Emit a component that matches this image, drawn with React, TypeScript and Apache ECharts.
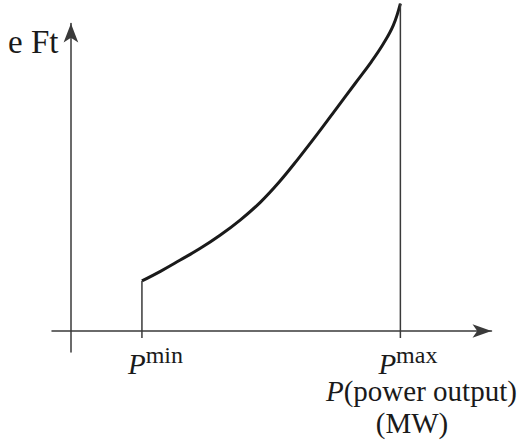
import React, { useEffect, useRef } from "react";
import * as echarts from "echarts";

// Cost curve e Ft(P) between P^min and P^max (abstract units)
const curveX = [30, 38, 46, 54.5, 63, 71.5, 80, 88, 96, 104, 112, 120, 127, 132, 136.2, 139.2];
const curveY = [15.8, 18.9, 22.3, 26.0, 30.2, 35.0, 40.6, 47.0, 54.3, 62.0, 70.0, 78.0, 85.0, 90.6, 96.4, 103.3];
const pMin = 30;
const pMax = 139.2;
const tickBase = -2.2;
const xRange = [-8, 177.7];
const yRange = [-6.62, 97];
const yAxisTitle = "e Ft";
const xAxisTitle = "(power output)";
const xAxisUnit = "(MW)";

const FONT = "Liberation Serif";
const INK = "#1a1a1a";
const LINE = "#3a3a3a";

export default function App() {
  const ref = useRef<HTMLDivElement>(null);
  useEffect(() => {
    if (!ref.current) return;
    const chart = echarts.init(ref.current, null, { renderer: "svg" });
    const supRich = {
      p: { fontFamily: FONT, fontStyle: "italic", fontSize: 29, color: INK, lineHeight: 35, verticalAlign: "bottom" },
      s: { fontFamily: FONT, fontSize: 24, color: INK, lineHeight: 24, verticalAlign: "top" },
    };
    const baseLabel = (sup: string, dx: number) => ({
      show: true,
      position: "bottom",
      align: "left",
      distance: 0,
      offset: [dx, 5],
      formatter: `{p|P}{s|${sup}}`,
      rich: supRich,
    });
    const plain = (size: number) => ({ fontFamily: FONT, fontSize: size, font: `${size}px "${FONT}"`, fill: INK });
    chart.setOption({
      animation: false,
      grid: { left: 52, right: 30.5, top: 23.5, bottom: 92 },
      xAxis: {
        type: "value",
        min: xRange[0],
        max: xRange[1],
        axisLine: {
          show: true,
          onZero: true,
          symbol: ["none", "arrow"],
          symbolSize: [10, 19],
          lineStyle: { color: LINE, width: 1.5 },
        },
        axisTick: { show: false },
        axisLabel: { show: false },
        splitLine: { show: false },
      },
      yAxis: {
        type: "value",
        min: yRange[0],
        max: yRange[1],
        axisLine: {
          show: true,
          onZero: true,
          symbol: ["none", "arrow"],
          symbolSize: [11, 19],
          lineStyle: { color: LINE, width: 1.5 },
        },
        axisTick: { show: false },
        axisLabel: { show: false },
        splitLine: { show: false },
      },
      series: [
        {
          type: "line",
          data: curveX.map((x, i) => [x, curveY[i]]),
          smooth: 0.4,
          showSymbol: false,
          clip: false,
          lineStyle: { color: INK, width: 3 },
        },
        {
          type: "line",
          symbol: "circle",
          symbolSize: 1,
          itemStyle: { color: "rgba(0,0,0,0)", borderWidth: 0 },
          clip: false,
          lineStyle: { color: LINE, width: 1.5 },
          data: [
            { value: [pMin, tickBase], label: baseLabel("min", -14) },
            [pMin, curveY[0]],
          ],
        },
        {
          type: "line",
          symbol: "circle",
          symbolSize: 1,
          itemStyle: { color: "rgba(0,0,0,0)", borderWidth: 0 },
          clip: false,
          lineStyle: { color: LINE, width: 1.5 },
          data: [
            { value: [pMax, tickBase], label: baseLabel("max", -22) },
            [pMax, curveY[curveY.length - 1]],
          ],
        },
      ],
      graphic: [
        {
          type: "text",
          x: 8,
          y: 42,
          style: { text: yAxisTitle, ...plain(33), align: "left", verticalAlign: "middle" },
        },
        {
          type: "text",
          x: 326,
          y: 391,
          style: {
            text: `{i|P}{n|${xAxisTitle}}`,
            ...plain(29),
            align: "left",
            verticalAlign: "middle",
            rich: {
              i: { fontFamily: FONT, fontSize: 29, fontStyle: "italic", fill: INK },
              n: { fontFamily: FONT, fontSize: 29, fill: INK },
            },
          },
        },
        {
          type: "text",
          x: 412,
          y: 423,
          style: { text: xAxisUnit, ...plain(29), align: "center", verticalAlign: "middle" },
        },
      ],
    });
    return () => chart.dispose();
  }, []);
  return <div ref={ref} style={{ width: 522, height: 444, position: "absolute", left: 0, top: 0 }} />;
}
